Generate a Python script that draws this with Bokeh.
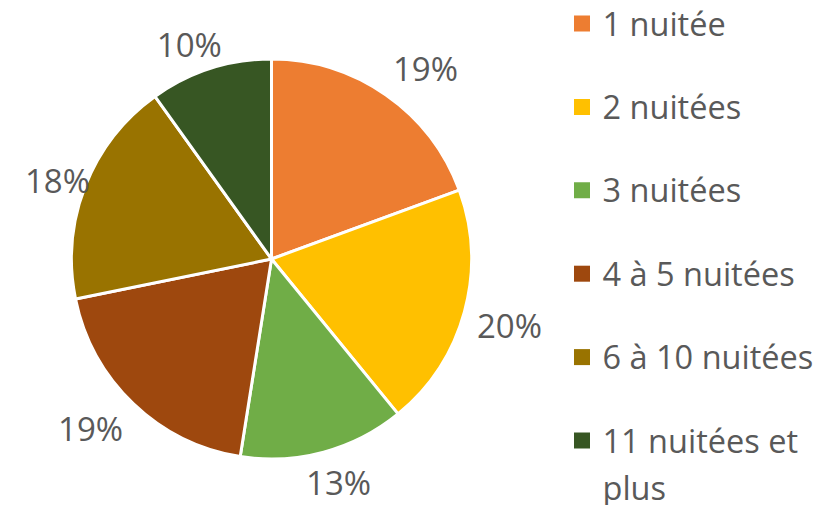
import math
import textwrap
from bokeh.plotting import figure
from bokeh.models import Range1d, ColumnDataSource
from bokeh.core.properties import value
from bokeh.embed import file_html
from bokeh.resources import INLINE

# ---- data ----
categories = ["1 nuitée", "2 nuitées", "3 nuitées", "4 à 5 nuitées", "6 à 10 nuitées", "11 nuitées et plus"]
shares = [19.4, 19.7, 13.4, 19.3, 18.3, 9.9]
pct_labels = ["19%", "20%", "13%", "19%", "18%", "10%"]
colors = ["#ED7D31", "#FFC000", "#70AD47", "#9E480E", "#997300", "#375623"]

# ---- layout ----
W, H = 840, 505
CX, CY, R = 271, 246.5, 200
label_dist = [245, 247, 233, 248, 228, 230]
label_nudge_deg = [4.0, 0.3, -1.6, 3.1, -1.3, -3.1]
FONT = "Open Sans"
FS = "33px"
LEG_FS = "32.5px"
TXT = "#595959"

total = sum(shares)
starts, ends, lx, ly = [], [], [], []
cum = 0.0
for i, s in enumerate(shares):
    a0 = cum / total
    cum += s
    a1 = cum / total
    starts.append(math.pi / 2 - 2 * math.pi * a1)
    ends.append(math.pi / 2 - 2 * math.pi * a0)
    mid = (a0 + a1) / 2 * 360 + label_nudge_deg[i]
    t = math.radians(mid)
    lx.append(CX + label_dist[i] * math.sin(t))
    ly.append(CY + label_dist[i] * math.cos(t))

p = figure(width=W, height=H, x_range=Range1d(0, W), y_range=Range1d(0, H),
           output_backend="svg", toolbar_location=None,
           x_axis_type=None, y_axis_type=None, min_border=0)
p.grid.visible = False
p.outline_line_color = None
p.background_fill_color = "white"
p.border_fill_color = "white"

src = ColumnDataSource(dict(start=starts, end=ends, color=colors))
p.wedge(x=CX, y=CY, radius=R, start_angle="start", end_angle="end",
        fill_color="color", line_color="white", line_width=3, source=src)

p.text(x=lx, y=ly, text=pct_labels, text_font=value(FONT), text_font_size=FS,
       text_color=TXT, text_align="center", text_baseline="middle")

# legend
LEG_X, LEG_Y0, LEG_STEP = 581.5, 482, 83.4
leg_y = [LEG_Y0 - i * LEG_STEP for i in range(len(categories))]
p.rect(x=[LEG_X] * len(categories), y=leg_y, width=16, height=16,
       fill_color=colors, line_color=None)
wrapped = [textwrap.fill(c, 14) for c in categories]
p.text(x=[LEG_X + 20.5] * len(categories), y=[y + 23 for y in leg_y], text=wrapped,
       text_font=value(FONT), text_font_size=LEG_FS, text_color=TXT,
       text_align="left", text_baseline="top", text_line_height=1.05)

open("out.html", "w").write(file_html(p, INLINE))
